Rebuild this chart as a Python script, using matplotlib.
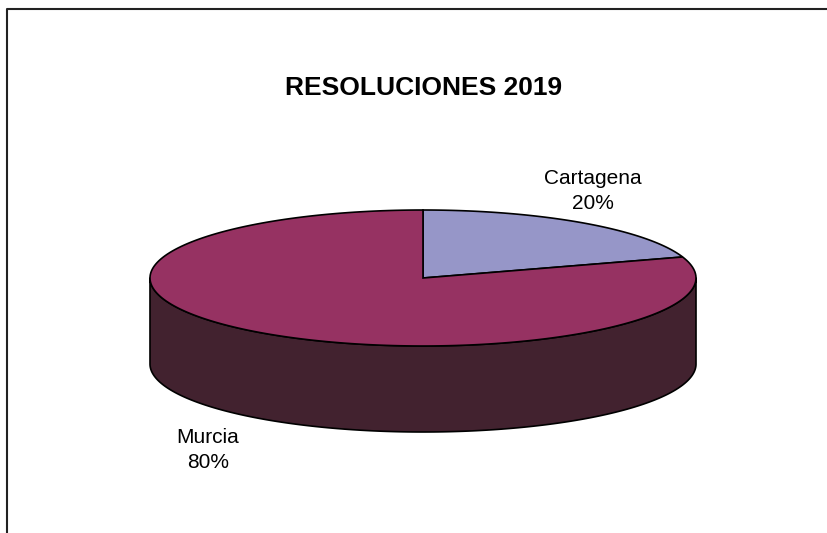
import numpy as np
import matplotlib
matplotlib.use("Agg")
from matplotlib import pyplot as plt
from matplotlib.patches import Polygon

plt.rcParams['font.family'] = ['Liberation Sans', 'DejaVu Sans']

title = "RESOLUCIONES 2019"
categories = ["Cartagena", "Murcia"]
values = [20, 80]
top_colors = ["#9696c8", "#963262"]
side_colors = ["#4a2a4a", "#42222f"]

# pie geometry in pixel space
cx, cy = 423, 278
rx, ry = 273, 68
depth = 86
start = 90.0


def arc(t0, t1, dy=0, n=200):
    t = np.radians(np.linspace(t0, t1, n))
    return np.column_stack([cx + rx * np.cos(t), cy + dy - ry * np.sin(t)])


fig = plt.figure(figsize=(8.27, 5.33), dpi=100)
ax = fig.add_axes([0, 0, 1, 1])
ax.set_xlim(0, 827)
ax.set_ylim(533, 0)
ax.axis("off")

# outer frame (runs off the right/bottom edge)
ax.plot([7, 7, 840], [540, 9, 9], color="#222222", lw=1.5, solid_capstyle="butt")

total = float(sum(values))
bounds = []
a = start
for v in values:
    b = a - 360 * v / total
    bounds.append((a, b))
    a = b

# side walls: only the front half (180..360) is visible
for (a0, a1), sc in zip(bounds, side_colors):
    lo, hi = min(a0, a1), max(a0, a1)
    for k in (-360, 0, 360):
        s0, s1 = max(lo + k, 180), min(hi + k, 360)
        if s1 > s0:
            top = arc(s0, s1)
            bot = arc(s1, s0, dy=depth)
            ax.add_patch(Polygon(np.vstack([top, bot]), closed=True, facecolor=sc,
                                 edgecolor="black", lw=1.2, joinstyle="round"))

# top faces
for (a0, a1), tc in zip(bounds, top_colors):
    pts = np.vstack([[cx, cy], arc(a0, a1)])
    ax.add_patch(Polygon(pts, closed=True, facecolor=tc, edgecolor="black", lw=1.2))

ax.text(424, 88, title, ha="center", va="center", fontsize=19, fontweight="bold")
ax.text(593, 191, f"{categories[0]}\n{values[0]}%", ha="center", va="center",
        fontsize=15, linespacing=1.45)
ax.text(208, 450, f"{categories[1]}\n{values[1]}%", ha="center", va="center",
        fontsize=15, linespacing=1.45)

fig.savefig("out.png", dpi=100)
